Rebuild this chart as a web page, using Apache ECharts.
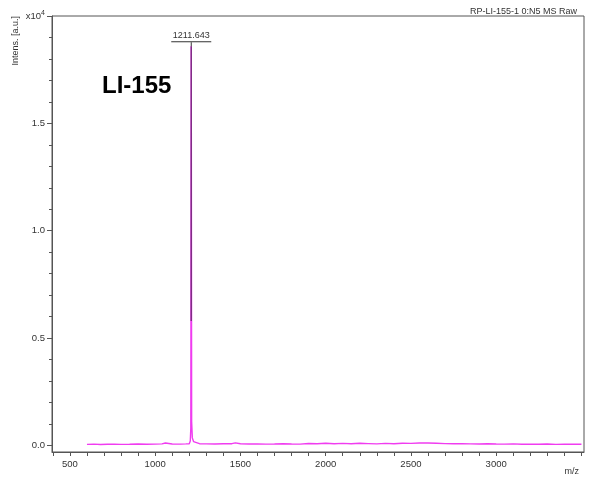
<!DOCTYPE html>
<html>
<head>
<meta charset="utf-8">
<title>LI-155 MALDI spectrum</title>
<script src="https://cdn.jsdelivr.net/npm/echarts@6/dist/echarts.min.js"></script>
<style>
  html, body { margin: 0; padding: 0; background: #fff; }
  #chart { width: 592px; height: 479px; }
</style>
</head>
<body>
<div id="chart"></div>
<script>
// Spectrum: m/z positions and intensities (a.u.)
const mzValues = [
  600, 640, 680, 720, 760, 800, 850, 900, 950, 1000, 1040, 1060, 1100, 1150, 1180,
  1200, 1206, 1209, 1211.643, 1214, 1218, 1225, 1235, 1260, 1300, 1350, 1400, 1450,
  1470, 1500, 1550, 1600, 1650, 1700, 1750, 1800, 1850, 1900, 1950, 2000, 2050, 2100,
  2150, 2200, 2250, 2300, 2350, 2400, 2450, 2500, 2550, 2600, 2650, 2700, 2750, 2800,
  2850, 2900, 2950, 3000, 3050, 3100, 3150, 3200, 3250, 3300, 3350, 3400, 3450, 3500
];
const intensValues = [
  50, 60, 45, 55, 60, 50, 55, 65, 55, 60, 70, 110, 65, 60, 70,
  80, 200, 800, 18590, 1100, 350, 180, 110, 80, 70, 65, 75, 80,
  120, 80, 65, 70, 60, 65, 80, 65, 60, 90, 75, 100, 80, 95,
  75, 100, 85, 70, 95, 80, 100, 95, 110, 115, 100, 85, 75, 80,
  70, 65, 75, 65, 60, 70, 55, 60, 55, 65, 50, 60, 55, 55
];
// intensity above which the peak trace is drawn in the darker colour
const peakDarkFrom = 5800;
const peakLabel = '1211.643';
const sampleTitle = 'LI-155';
const runTitle = 'RP-LI-155-1 0:N5 MS Raw';

// Axis ticks
const xLabelTicks = [500, 1000, 1500, 2000, 2500, 3000];
const xMinorTicks = [];
for (let v = 400; v <= 3500; v += 100) xMinorTicks.push(v);
const yLabelTicks = [0, 5000, 10000, 15000, 20000];
const yMinorTicks = [];
for (let v = 0; v <= 20000; v += 1000) yMinorTicks.push(v);

const spectrum = mzValues.map((m, i) => [m, intensValues[i]]);
let peakIdx = 0;
intensValues.forEach((v, i) => { if (v > intensValues[peakIdx]) peakIdx = i; });
const peakPoint = spectrum[peakIdx];
const peakUpper = [[peakPoint[0], peakDarkFrom], peakPoint];

const axisGray = '#555';
const textGray = '#333';
const font = 'Liberation Sans, Arial, sans-serif';

const chart = echarts.init(document.getElementById('chart'), null, { renderer: 'canvas' });

chart.setOption({
  animation: false,
  backgroundColor: '#fff',
  grid: { left: 52, right: 8, top: 16, bottom: 27, show: true, borderColor: axisGray, borderWidth: 1, backgroundColor: 'transparent' },
  title: [
    { text: sampleTitle, left: 97, top: 69, textStyle: { fontFamily: font, fontSize: 24, fontWeight: 'bold', color: '#000' } },
    { text: runTitle, right: 10, top: 2, textStyle: { fontFamily: font, fontSize: 9, fontWeight: 'normal', color: textGray } },
    { text: 'm/z', right: 8, top: 462, textStyle: { fontFamily: font, fontSize: 9, fontWeight: 'normal', color: textGray } }
  ],
  xAxis: [{
    type: 'value', min: 395, max: 3515,
    axisLine: { show: true, onZero: false, lineStyle: { color: axisGray, width: 1 } },
    axisTick: { show: true, length: 4, customValues: xMinorTicks, lineStyle: { color: axisGray } },
    axisLabel: { show: true, customValues: xLabelTicks, margin: 7, fontFamily: font, fontSize: 9.5, color: textGray, formatter: v => String(v) },
    splitLine: { show: false }
  }],
  yAxis: [{
    type: 'value', min: -307, max: 20000,
    name: 'Intens. [a.u.]', nameLocation: 'end', nameRotate: 90, nameGap: 0,
    nameTextStyle: { fontFamily: font, fontSize: 9, color: textGray, align: 'right', verticalAlign: 'bottom', padding: [0, 0, 32, 0] },
    axisLine: { show: true, onZero: false, lineStyle: { color: axisGray, width: 1 } },
    axisTick: { show: true, length: 3, customValues: yMinorTicks, lineStyle: { color: axisGray } },
    axisLabel: {
      show: true, customValues: yLabelTicks, margin: 7, fontFamily: font, fontSize: 9.5, color: textGray,
      formatter: v => v >= 20000 ? 'x10{s|4}' : (v / 10000).toFixed(1),
      rich: { s: { fontSize: 7, verticalAlign: 'top', padding: [0, 0, 6, 0], color: textGray, fontFamily: font } }
    },
    splitLine: { show: false }
  }, {
    // longer ticks at labelled intensities
    type: 'value', min: -307, max: 20000, position: 'left', offset: 0,
    axisLine: { show: false },
    axisTick: { show: true, length: 5, customValues: yLabelTicks, lineStyle: { color: axisGray } },
    axisLabel: { show: false },
    splitLine: { show: false }
  }],
  series: [{
    type: 'line',
    data: spectrum,
    showSymbol: false,
    symbol: 'none',
    lineStyle: { width: 1.4, color: '#f03cf0' },
    markPoint: {
      symbol: 'circle', symbolSize: 0,
      data: [{ coord: peakPoint, value: peakLabel }],
      label: {
        show: true, position: 'top', distance: 0,
        formatter: '{t|' + peakLabel + '}\n{u|}\n{v|}',
        rich: {
          t: { fontFamily: font, fontSize: 9, color: textGray, align: 'center', lineHeight: 11 },
          u: { width: 40, height: 1, backgroundColor: textGray, align: 'center', lineHeight: 1 },
          v: { width: 1, height: 4, backgroundColor: textGray, align: 'center', lineHeight: 4 }
        }
      }
    }
  }, {
    // upper part of the main peak
    type: 'line',
    data: peakUpper,
    showSymbol: false,
    symbol: 'none',
    lineStyle: { width: 1.4, color: '#7a2c80' }
  }]
});
</script>
</body>
</html>
